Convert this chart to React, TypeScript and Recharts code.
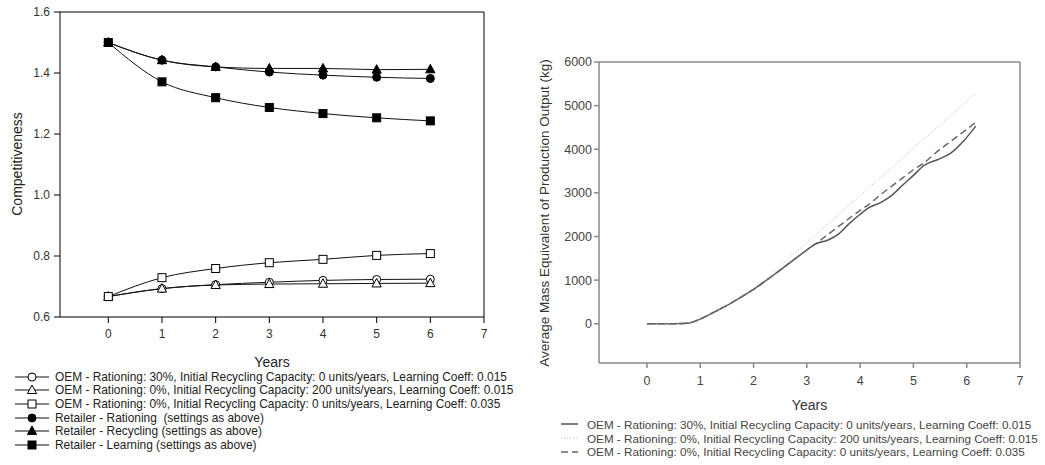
import React from "react";
import { LineChart, Line, XAxis, YAxis, ReferenceLine } from "recharts";

// left chart: competitiveness per year
const years = [0, 1, 2, 3, 4, 5, 6];
const oemRationing = [0.667, 0.693, 0.706, 0.714, 0.72, 0.723, 0.724];
const oemRecycling = [0.667, 0.693, 0.705, 0.708, 0.709, 0.71, 0.711];
const oemLearning = [0.667, 0.729, 0.759, 0.778, 0.789, 0.802, 0.808];
const retRationing = [1.5, 1.442, 1.42, 1.403, 1.393, 1.386, 1.382];
const retRecycling = [1.5, 1.442, 1.42, 1.415, 1.415, 1.411, 1.412];
const retLearning = [1.5, 1.371, 1.319, 1.287, 1.267, 1.253, 1.243];
const compTicks = [0.6, 0.8, 1.0, 1.2, 1.4, 1.6];
const yearTicks = [0, 1, 2, 3, 4, 5, 6, 7];

// right chart: mass equivalent of production output
const massYears = [0, 0.25, 0.5, 0.75, 1, 1.25, 1.5, 1.75, 2, 2.5, 3, 3.15, 3.4, 3.6, 3.8, 4, 4.15, 4.4, 4.6, 4.8, 5, 5.2, 5.45, 5.7, 5.95, 6.17];
const massRationing = [0, 0, 0, 10, 107, 260, 420, 600, 790, 1230, 1690, 1820, 1920, 2060, 2300, 2510, 2650, 2790, 2950, 3180, 3400, 3630, 3760, 3910, 4200, 4530];
const massRecycling = [0, 0, 0, 10, 107, 260, 425, 610, 800, 1330, 1860, 2020, 2290, 2505, 2720, 2940, 3100, 3370, 3585, 3800, 4020, 4235, 4505, 4775, 5045, 5280];
const massLearning = [0, 0, 0, 10, 107, 260, 420, 600, 790, 1230, 1690, 1820, 2050, 2235, 2420, 2600, 2720, 2975, 3160, 3345, 3530, 3690, 3950, 4180, 4410, 4620];
const massTicks = [0, 1000, 2000, 3000, 4000, 5000, 6000];

const compSeries = [
  { key: "oemRationing", values: oemRationing, shape: "circle", filled: false, name: "OEM - Rationing: 30%, Initial Recycling Capacity: 0 units/years, Learning Coeff: 0.015" },
  { key: "oemRecycling", values: oemRecycling, shape: "triangle", filled: false, name: "OEM - Rationing: 0%, Initial Recycling Capacity: 200 units/years, Learning Coeff: 0.015" },
  { key: "oemLearning", values: oemLearning, shape: "square", filled: false, name: "OEM - Rationing: 0%, Initial Recycling Capacity: 0 units/years, Learning Coeff: 0.035" },
  { key: "retRationing", values: retRationing, shape: "circle", filled: true, name: "Retailer - Rationing  (settings as above)" },
  { key: "retRecycling", values: retRecycling, shape: "triangle", filled: true, name: "Retailer - Recycling (settings as above)" },
  { key: "retLearning", values: retLearning, shape: "square", filled: true, name: "Retailer - Learning (settings as above)" },
];

const massSeries = [
  { key: "rationing", values: massRationing, stroke: "#555", width: 1.5, dash: undefined as string | undefined, name: "OEM - Rationing: 30%, Initial Recycling Capacity: 0 units/years, Learning Coeff: 0.015" },
  { key: "recycling", values: massRecycling, stroke: "#b8b8b8", width: 1, dash: "1 2", name: "OEM - Rationing: 0%, Initial Recycling Capacity: 200 units/years, Learning Coeff: 0.015" },
  { key: "learning", values: massLearning, stroke: "#666", width: 1.5, dash: "7 4", name: "OEM - Rationing: 0%, Initial Recycling Capacity: 0 units/years, Learning Coeff: 0.035" },
];

const compData = years.map((y, i) => {
  const row: any = { year: y };
  compSeries.forEach((s) => (row[s.key] = s.values[i]));
  return row;
});

const massData = massYears.map((y, i) => {
  const row: any = { year: y };
  massSeries.forEach((s) => (row[s.key] = s.values[i]));
  return row;
});

const FONT = "'Liberation Sans', Arial, sans-serif";

function marker(shape: string, filled: boolean, cx: number, cy: number, key?: string) {
  const fill = filled ? "#000" : "#fff";
  if (shape === "circle")
    return <circle key={key} cx={cx} cy={cy} r={4} fill={fill} stroke="#000" strokeWidth={1} />;
  if (shape === "square")
    return <rect key={key} x={cx - 4} y={cy - 4} width={8} height={8} fill={fill} stroke="#000" strokeWidth={1} />;
  return (
    <polygon
      key={key}
      points={`${cx},${cy - 5} ${cx - 4.6},${cy + 3.5} ${cx + 4.6},${cy + 3.5}`}
      fill={fill}
      stroke="#000"
      strokeWidth={1}
    />
  );
}

// rotated y axis title as plain html, so it never wraps
function YTitle({ text, cx, cy, size, color }: { text: string; cx: number; cy: number; size: number; color: string }) {
  return (
    <div
      style={{
        position: "absolute",
        left: cx,
        top: cy,
        transform: "translate(-50%, -50%) rotate(-90deg)",
        whiteSpace: "nowrap",
        fontFamily: FONT,
        fontSize: size,
        color,
        lineHeight: 1,
      }}
    >
      {text}
    </div>
  );
}

function CompChart() {
  return (
    <LineChart width={500} height={370} data={compData} margin={{ top: 12, right: 16, bottom: 20, left: 0 }}>
      <XAxis
        dataKey="year"
        type="number"
        domain={[-0.9, 7]}
        ticks={yearTicks}
        allowDataOverflow
        height={33}
        stroke="#000"
        tickSize={6}
        tickMargin={6}
        tick={{ fontSize: 12, fill: "#333", fontFamily: FONT }}
        label={{ value: "Years", position: "bottom", offset: 7, style: { fontSize: 14, fill: "#222", fontFamily: FONT } }}
      />
      <YAxis
        type="number"
        domain={[0.6, 1.6]}
        ticks={compTicks}
        width={60}
        stroke="#000"
        tickSize={6}
        tickMargin={4}
        tickFormatter={(v: number) => v.toFixed(1)}
        tick={{ fontSize: 12, fill: "#333", fontFamily: FONT }}
      />
      <ReferenceLine y={1.6} stroke="#000" />
      <ReferenceLine x={7} stroke="#000" />
      {compSeries.map((s) => (
        <Line
          key={s.key}
          dataKey={s.key}
          type="monotone"
          stroke="#111"
          strokeWidth={1}
          isAnimationActive={false}
          dot={(p: any) => marker(s.shape, s.filled, p.cx, p.cy, `${s.key}-${p.index}`)}
          activeDot={false}
        />
      ))}
    </LineChart>
  );
}

function MassChart() {
  return (
    <LineChart width={520} height={420} data={massData} margin={{ top: 62, right: 20, bottom: 27, left: 0 }}>
      <XAxis
        dataKey="year"
        type="number"
        domain={[-0.9, 7]}
        ticks={yearTicks}
        allowDataOverflow
        height={30}
        stroke="#888"
        strokeWidth={1.5}
        tickSize={5}
        tickMargin={8}
        tick={{ fontSize: 12.5, fill: "#444", fontFamily: FONT }}
        label={{ value: "Years", position: "bottom", offset: 7, style: { fontSize: 14, fill: "#333", fontFamily: FONT } }}
      />
      <YAxis
        type="number"
        domain={[-900, 6000]}
        ticks={massTicks}
        allowDataOverflow
        width={79}
        stroke="#888"
        strokeWidth={1.5}
        tickSize={5}
        tickMargin={2}
        tick={{ fontSize: 12.5, fill: "#444", fontFamily: FONT }}
      />
      <ReferenceLine y={6000} stroke="#888" strokeWidth={1.5} />
      <ReferenceLine x={7} stroke="#888" strokeWidth={1.5} />
      {massSeries.map((s) => (
        <Line
          key={s.key}
          dataKey={s.key}
          type="monotone"
          stroke={s.stroke}
          strokeWidth={s.width}
          strokeDasharray={s.dash}
          dot={false}
          activeDot={false}
          isAnimationActive={false}
        />
      ))}
    </LineChart>
  );
}

function CompLegend() {
  return (
    <div style={{ position: "absolute", left: 15, top: 370, fontFamily: FONT, fontSize: 11.9, color: "#222" }}>
      {compSeries.map((s) => (
        <div key={s.key} style={{ height: 13.6, display: "flex", alignItems: "center", whiteSpace: "pre" }}>
          <svg width={34} height={12} style={{ marginRight: 6 }}>
            <line x1={0} y1={6} x2={34} y2={6} stroke="#111" strokeWidth={1} />
            {marker(s.shape, s.filled, 17, 6)}
          </svg>
          <span>{s.name}</span>
        </div>
      ))}
    </div>
  );
}

function MassLegend() {
  return (
    <div style={{ position: "absolute", left: 561, top: 417.5, fontFamily: FONT, fontSize: 11.7, color: "#444" }}>
      {massSeries.map((s) => (
        <div key={s.key} style={{ height: 13.7, display: "flex", alignItems: "center", whiteSpace: "pre" }}>
          <svg width={17} height={12} style={{ marginRight: 9 }}>
            <line x1={0} y1={6} x2={17} y2={6} stroke={s.stroke} strokeWidth={s.width} strokeDasharray={s.dash} />
          </svg>
          <span>{s.name}</span>
        </div>
      ))}
    </div>
  );
}

export default function App() {
  return (
    <div style={{ position: "absolute", left: 0, top: 0, width: 1045, height: 465, background: "#fff", overflow: "hidden" }}>
      <div style={{ position: "absolute", left: 0, top: 0 }}>
        <CompChart />
      </div>
      <div style={{ position: "absolute", left: 520, top: 0 }}>
        <MassChart />
      </div>
      <YTitle text="Competitiveness" cx={17} cy={164} size={14} color="#222" />
      <YTitle text="Average Mass Equivalent of Production Output (kg)" cx={545} cy={213} size={13.5} color="#333" />
      <CompLegend />
      <MassLegend />
    </div>
  );
}
